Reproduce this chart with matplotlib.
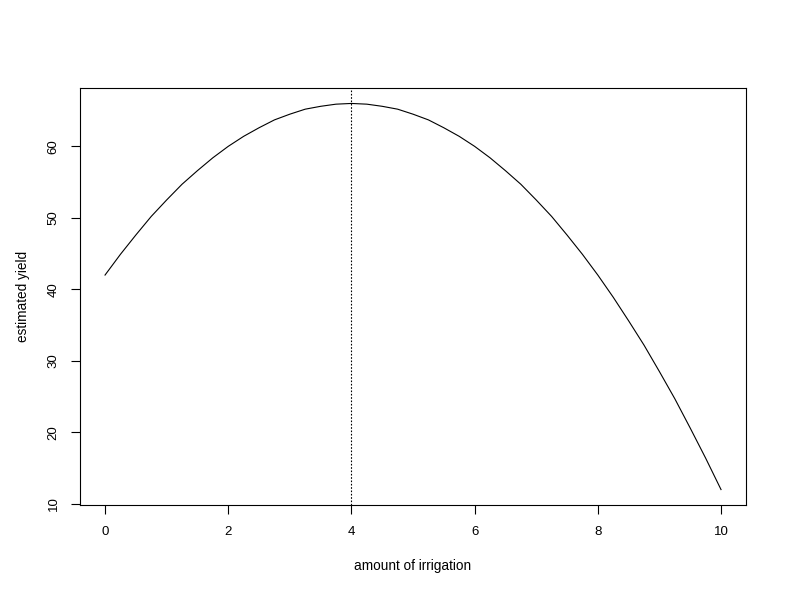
import matplotlib
matplotlib.use("Agg")
import matplotlib.pyplot as plt

plt.rcParams["font.family"] = ["Liberation Sans", "DejaVu Sans"]

# amount of irrigation vs estimated yield
irrigation = [0, 0.25, 0.5, 0.75, 1, 1.25, 1.5, 1.75, 2, 2.25, 2.5,
              2.75, 3, 3.25, 3.5, 3.75, 4, 4.25, 4.5, 4.75, 5,
              5.25, 5.5, 5.75, 6, 6.25, 6.5, 6.75, 7, 7.25, 7.5,
              7.75, 8, 8.25, 8.5, 8.75, 9, 9.25, 9.5, 9.75, 10]
est_yield = [42, 44.9, 47.6, 50.2, 52.5, 54.7, 56.6, 58.4, 60, 61.4, 62.6,
             63.7, 64.5, 65.2, 65.6, 65.9, 66, 65.9, 65.6, 65.2, 64.5,
             63.7, 62.6, 61.4, 60, 58.4, 56.6, 54.7, 52.5, 50.2, 47.6,
             44.9, 42, 38.9, 35.6, 32.2, 28.5, 24.7, 20.6, 16.4, 12]
best_x = 4
xticks = [0, 2, 4, 6, 8, 10]
yticks = [10, 20, 30, 40, 50, 60]

fig = plt.figure(figsize=(7.92, 6.12), dpi=100)
ax = fig.add_axes([0.1015, 0.1748, 0.8400, 0.6814])

ax.plot(irrigation, est_yield, color="black", linewidth=0.8)
ax.axvline(best_x, color="black", linewidth=0.8, linestyle=(0, (1.5, 1.5)))

ax.set_xlim(-0.4, 10.4)
ax.set_ylim(9.84, 68.16)
ax.set_xticks(xticks)
ax.set_yticks(yticks)
ax.set_yticklabels([str(v) for v in yticks], rotation=90, va="center")
ax.tick_params(direction="out", length=6.5, width=0.8, labelsize=9.5, pad=8.5)

for s in ax.spines.values():
    s.set_linewidth(0.8)

ax.set_xlabel("amount of irrigation", fontsize=9.8, labelpad=15.5)
ax.set_ylabel("estimated yield", fontsize=9.8, labelpad=12.5)

fig.savefig("out.png", dpi=100)
